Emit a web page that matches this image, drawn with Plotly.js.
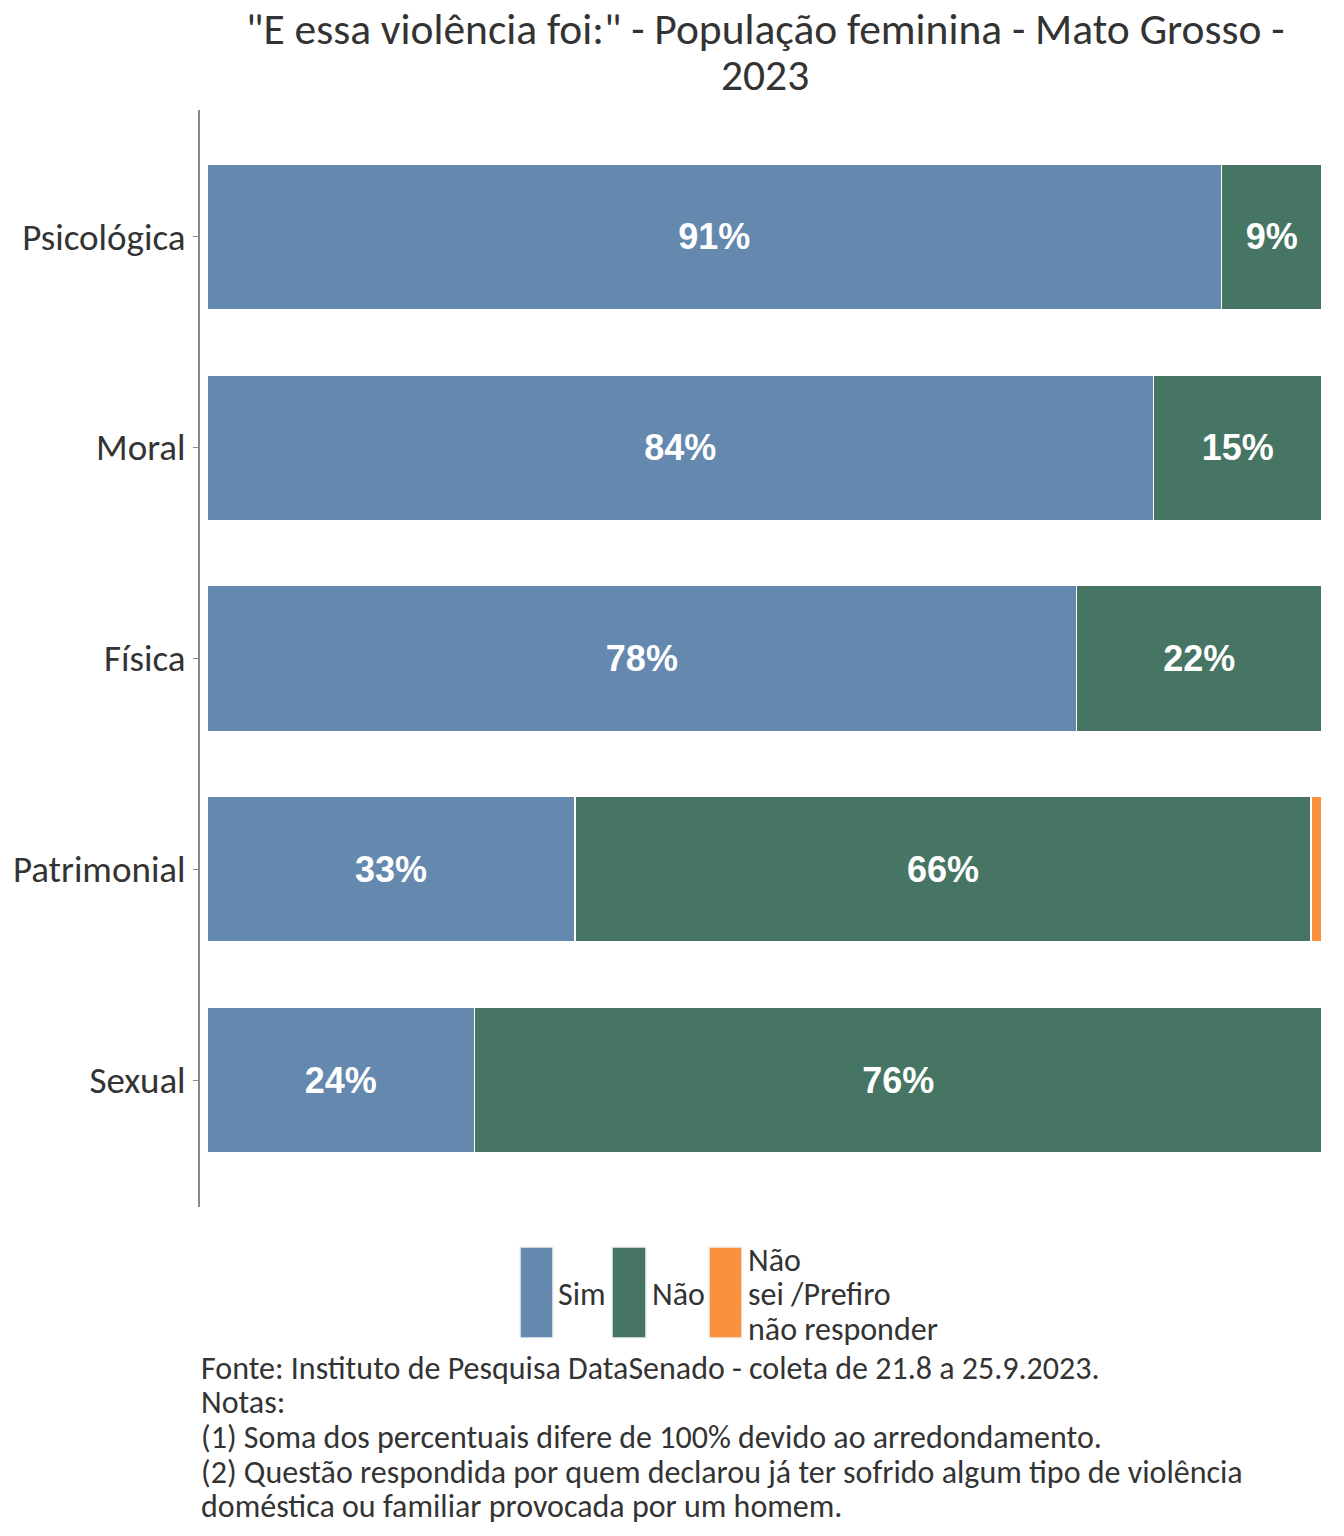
<!DOCTYPE html>
<html>
<head>
<meta charset="utf-8">
<script src="https://cdn.plot.ly/plotly-3.0.1.min.js"></script>
<style>html,body{margin:0;padding:0;background:#fff;}#chart{width:1344px;height:1536px;}</style>
</head>
<body>
<div id="chart"></div>
<script>
const categories = ["Psicológica", "Moral", "Física", "Patrimonial", "Sexual"];
const simValues = [91, 84.9, 78, 33, 24];
const naoValues = [9, 15.1, 22, 66, 76];
const nsValues = [0, 0, 0, 1, 0];
const simLabels = ["91%", "84%", "78%", "33%", "24%"];
const naoLabels = ["9%", "15%", "22%", "66%", "76%"];
const nsLabels = ["", "", "", "", ""];
const seriesNames = ["Sim", "Não", "Não sei /Prefiro não responder"];
const colors = ["#6588AF", "#467563", "#FA913F"];
const titleLines = ["\"E essa violência foi:\" - População feminina - Mato Grosso -", "2023"];
const legendLabels = [["Sim"], ["Não"], ["Não", "sei /Prefiro", "não responder"]];
const captionLines = [
  "Fonte: Instituto de Pesquisa DataSenado - coleta de 21.8 a 25.9.2023.",
  "Notas:",
  "(1) Soma dos percentuais difere de 100% devido ao arredondamento.",
  "(2) Questão respondida por quem declarou já ter sofrido algum tipo de violência",
  "doméstica ou familiar provocada por um homem."
];

const FONT = "Carlito, Lato, 'Open Sans', sans-serif";
const TXT = "#333333";
const textFont = {family: "'Liberation Sans', Arial, sans-serif", size: 36, color: "#ffffff", weight: 700};

function mk(vals, labels, name, color) {
  return {
    type: "bar", orientation: "h", y: categories, x: vals, name: name,
    text: labels, textposition: "inside", insidetextanchor: "middle",
    textangle: 0, constraintext: "none",
    textfont: textFont,
    marker: {color: color, line: {color: "#ffffff", width: 1.5}},
    width: 0.69, hoverinfo: "skip", showlegend: false
  };
}
const data = [
  mk(simValues, simLabels, seriesNames[0], colors[0]),
  mk(naoValues, naoLabels, seriesNames[1], colors[1]),
  mk(nsValues, nsLabels, seriesNames[2], colors[2])
];

const W = 1344, H = 1536;
const L = 200, R = 22, T = 110, B = 329;
const pw = W - L - R, ph = H - T - B;
function paperX(x) { return (x - L) / pw; }
function paperY(y) { return (H - B - y) / ph; }

const shapes = [];
const annotations = [];
function addText(x, y, text, size, anchor) {
  annotations.push({xref: "paper", yref: "paper", x: paperX(x), y: paperY(y), text: text,
    showarrow: false, xanchor: anchor || "left", yanchor: "middle", align: "left",
    font: {family: FONT, size: size, color: TXT}});
}

// title
addText(765, 30, titleLines[0], 43.5, "center");
addText(765, 75, titleLines[1], 43.5, "center");

// legend
const legendBoxes = [[520, 553], [612, 646], [709, 742]];
const legendTextX = [556, 650, 746];
legendBoxes.forEach((b, i) => {
  shapes.push({type: "rect", xref: "paper", yref: "paper",
    x0: paperX(b[0]), x1: paperX(b[1]), y0: paperY(1338), y1: paperY(1247),
    fillcolor: colors[i], line: {color: "#f2f2f2", width: 1.5}});
  const lines = legendLabels[i];
  const ys = lines.length === 1 ? [1294] : [1260, 1294, 1329];
  lines.forEach((t, j) => addText(legendTextX[i], ys[j], t, 32));
});

// caption
const capY = [1368, 1402, 1437, 1472, 1506];
captionLines.forEach((t, i) => addText(199, capY[i], t, 32));

const layout = {
  width: W, height: H,
  margin: {l: L, r: R, t: T, b: B, pad: 0},
  paper_bgcolor: "#ffffff", plot_bgcolor: "#ffffff",
  barmode: "stack",
  font: {family: FONT, color: TXT},
  xaxis: {range: [-0.63, 100], showgrid: false, zeroline: false, showline: false,
    showticklabels: false, ticks: "", fixedrange: true},
  yaxis: {type: "category", categoryorder: "array", categoryarray: categories,
    range: [4.6, -0.6], showgrid: false, zeroline: false,
    showline: true, linecolor: "#888888", linewidth: 2,
    ticks: "outside", ticklen: 5, tickcolor: "#888888", tickwidth: 1.5,
    tickfont: {family: FONT, size: 37, color: TXT}, ticklabelstandoff: 0},
  shapes: shapes,
  annotations: annotations,
  showlegend: false
};

Plotly.newPlot("chart", data, layout, {displayModeBar: false, staticPlot: true});
</script>
</body>
</html>
